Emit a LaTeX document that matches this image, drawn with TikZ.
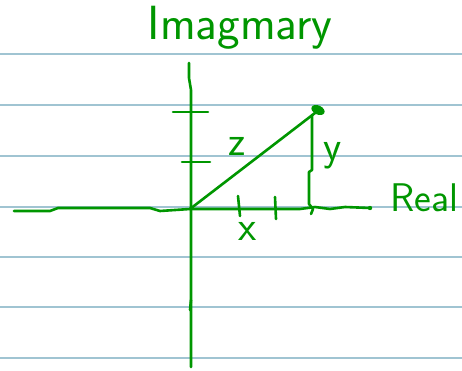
\documentclass[tikz,border=0pt]{standalone}
\usepackage{tikz}
\definecolor{ink}{RGB}{0,150,0}
\definecolor{ruleline}{RGB}{160,196,210}

\begin{document}
\begin{tikzpicture}[x=1pt, y=-1pt,
  pen/.style={draw=ink, line width=2.6pt, line cap=round, line join=round},
  hand/.style={text=ink, font=\sffamily, inner sep=0pt}]
\useasboundingbox (0,0) rectangle (462,371);

% ruled paper
\foreach \ry in {54,105,156,207,257,307,358}
  \draw[ruleline, line width=1.3pt] (0,\ry) -- (462,\ry);

% points of the sketch
\coordinate (O) at (190,209);
\coordinate (Z) at (315,113);
\coordinate (ZF) at (311,214);
\coordinate (top) at (189,63);
\coordinate (bottom) at (191,367);
\coordinate (left) at (14,211);
\coordinate (right) at (370,208);

% axes
\draw[pen] (top) -- (189,78) -- (191,90) -- (bottom);
\draw[pen] (left) -- (50,211) -- (58,208) -- (150,208) -- (160,211) -- (O);
\draw[pen] (O) -- (300,209) -- (315,207) -- (330,209) -- (345,207) -- (right);
\fill[ink] (right) circle (2.2pt);

% ticks
\draw[pen] (173,112) -- (208,112);
\draw[pen] (182,162) -- (210,162);
\draw[pen] (238,196) -- (240,216);
\draw[pen] (275,197) -- (276,219);
\draw[pen] (191,300) -- (190,310);

% z and its parts
\draw[pen] (O) -- (Z);
\draw[pen] (312,115) -- (312,170) -- (309,172) -- (309,204) -- (313,209) -- (ZF);
\fill[ink, rotate around={-25:(318,110)}] (318,110) ellipse (7pt and 4.5pt);

% labels
\node[hand, font=\sffamily\fontsize{48}{52}\selectfont] (imag) at (240,28) {Imagmary};
\node[hand, font=\sffamily\fontsize{40}{44}\selectfont] (real) at (424,198) {Real};
\node[hand, font=\sffamily\fontsize{42}{46}\selectfont] (zlab) at (237,146) {z};
\node[hand, font=\sffamily\fontsize{42}{46}\selectfont] (ylab) at (333,156) {y};
\node[hand, font=\sffamily\fontsize{42}{46}\selectfont] (xlab) at (248,231) {x};
\end{tikzpicture}
\end{document}
